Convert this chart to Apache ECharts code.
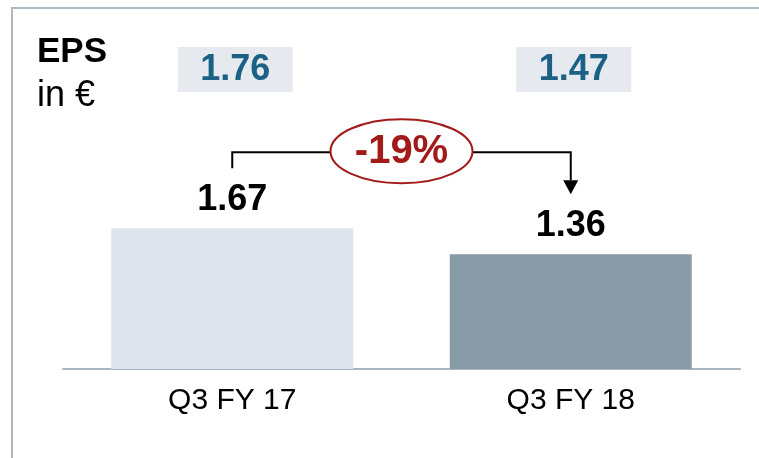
<!DOCTYPE html>
<html>
<head>
<meta charset="utf-8">
<script src="https://cdn.jsdelivr.net/npm/echarts@6/dist/echarts.min.js"></script>
<style>
  html, body { margin: 0; padding: 0; background: #fff; }
  #main { width: 759px; height: 458px; }
</style>
</head>
<body>
<div id="main"></div>
<script>
var categories = ['Q3 FY 17', 'Q3 FY 18'];
var eps = [1.67, 1.36];
var priorEps = ['1.76', '1.47'];
var changeText = '-19%';
var barColors = ['#dee4ed', '#8a9ba8'];

var FONT = '"Liberation Sans", Arial, sans-serif';

window.onload = function () {
    var myChart = echarts.init(document.getElementById('main'));

    var option = {
        animation: false,
        grid: { left: 63, right: 19, top: 116, bottom: 89 },
        xAxis: {
            type: 'category',
            data: categories,
            axisLine: { lineStyle: { color: '#a9b5c1', width: 2 } },
            axisTick: { show: false },
            axisLabel: { fontSize: 30, color: '#000', margin: 17, fontFamily: FONT }
        },
        yAxis: { type: 'value', min: 0, max: 3, show: false },
        series: [{
            type: 'bar',
            barWidth: 242,
            data: eps.map(function (v, i) {
                return { value: v, itemStyle: { color: barColors[i] } };
            }),
            label: {
                show: true,
                position: 'top',
                distance: 10,
                fontSize: 36,
                fontWeight: 'bold',
                color: '#000',
                fontFamily: FONT,
                formatter: function (p) { return p.value.toFixed(2); }
            }
        }]
    };
    myChart.setOption(option);

    // annotation positions from the axes
    var p0 = myChart.convertToPixel({ gridIndex: 0 }, [0, eps[0]]);
    var p1 = myChart.convertToPixel({ gridIndex: 0 }, [1, eps[1]]);
    var lineY = p0[1] - 76;
    var midX = (p0[0] + p1[0]) / 2;

    var graphics = [
        // frame
        { type: 'line', shape: { x1: 11, y1: 8, x2: 759, y2: 8 }, style: { stroke: '#adb8c4', lineWidth: 2 } },
        { type: 'line', shape: { x1: 12, y1: 8, x2: 12, y2: 458 }, style: { stroke: '#adb8c4', lineWidth: 2 } },
        // title
        { type: 'text', x: 37, y: 52, style: { text: 'EPS', font: 'bold 35px ' + FONT, fill: '#000', verticalAlign: 'middle' } },
        { type: 'text', x: 37, y: 96, style: { text: 'in €', font: '36px ' + FONT, fill: '#000', verticalAlign: 'middle' } },
        // bracket
        { type: 'polyline', shape: { points: [[p0[0], p0[1] - 60], [p0[0], lineY], [p1[0], lineY], [p1[0], p1[1] - 74]] },
          style: { stroke: '#000', lineWidth: 2, fill: null } },
        { type: 'polygon', shape: { points: [[p1[0] - 7.5, p1[1] - 74], [p1[0] + 7.5, p1[1] - 74], [p1[0], p1[1] - 60]] },
          style: { fill: '#000' } },
        { type: 'ellipse', shape: { cx: midX, cy: lineY - 1, rx: 71, ry: 32 },
          style: { fill: '#fff', stroke: '#a31a1a', lineWidth: 2 } },
        { type: 'text', x: midX, y: lineY, style: { text: changeText, font: 'bold 40px ' + FONT, fill: '#a31a1a', align: 'center', verticalAlign: 'middle' } }
    ];

    priorEps.forEach(function (txt, i) {
        var cx = myChart.convertToPixel({ gridIndex: 0 }, [i, 0])[0] + 3;
        graphics.push({ type: 'rect', shape: { x: cx - 57.5, y: 47, width: 115, height: 45 }, style: { fill: '#e6e9ed' } });
        graphics.push({ type: 'text', x: cx, y: 70, style: { text: txt, font: 'bold 36px ' + FONT, fill: '#1b6186', align: 'center', verticalAlign: 'middle' } });
    });

    myChart.setOption({ graphic: graphics });
};
</script>
</body>
</html>
